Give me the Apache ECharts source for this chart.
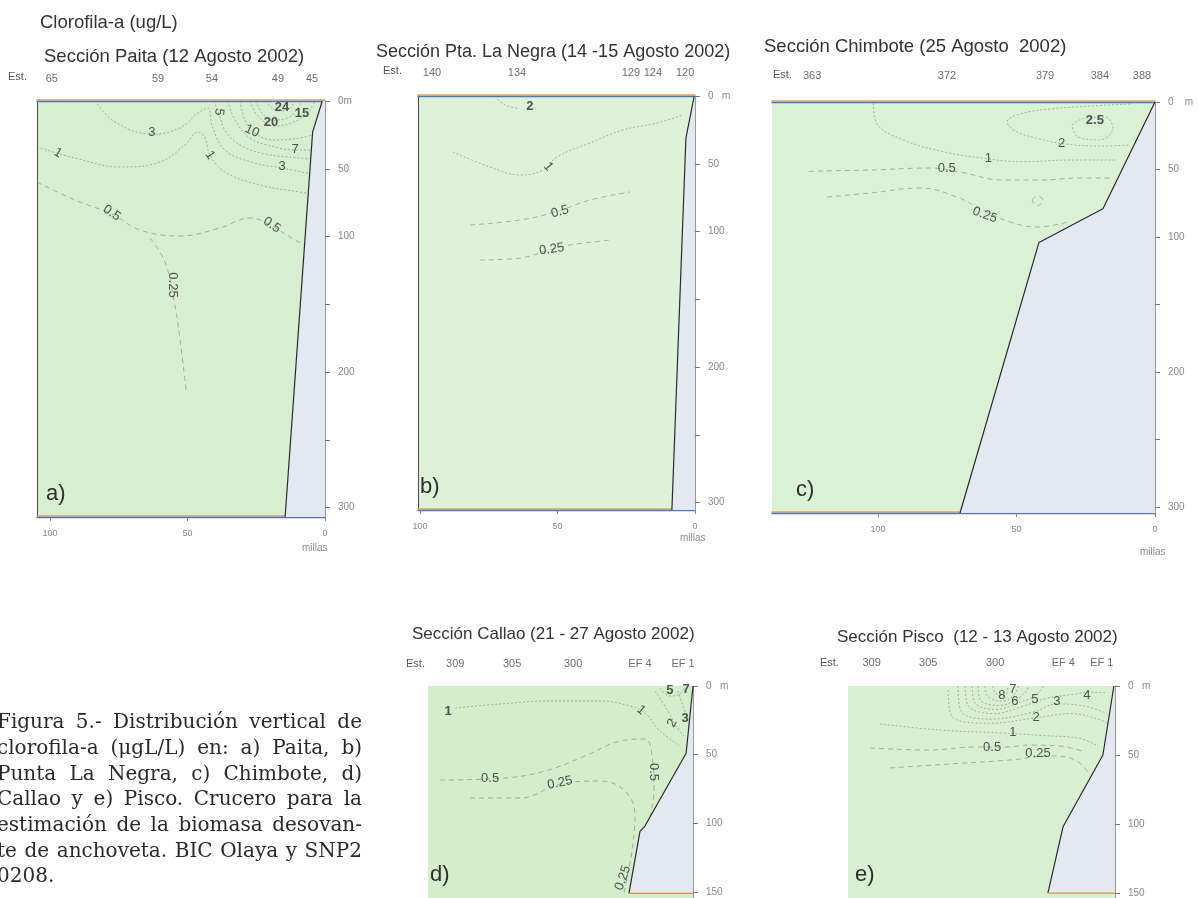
<!DOCTYPE html>
<html><head><meta charset="utf-8">
<script src="https://cdn.jsdelivr.net/npm/echarts@6/dist/echarts.min.js"></script>
<style>html,body{margin:0;padding:0;background:#fff}#c{width:1198px;height:898px}</style>
</head><body><div id="c"></div>
<script>
// ================= DATA =================
const chartTitle = 'Clorofila-a (ug/L)';
const sectionTitles = ['Sección Paita (12 Agosto 2002)','Sección Pta. La Negra (14 -15 Agosto 2002)','Sección Chimbote (25 Agosto  2002)','Sección Callao (21 - 27 Agosto 2002)','Sección Pisco  (12 - 13 Agosto 2002)'];
const panelLetters = ['a)','b)','c)','d)','e)'];
const xTicks = [0, 50, 100];

// Panel a — Paita (x: millas, y: depth m)
const stationsA = ['65','59','54','49','45'];
const stationMilesA = [99.3, 60.7, 41.1, 17.1, 4.7];
const bottomA = [[1,0],[4.5,23],[14.5,307]];
const contoursA = [
 ['24', [[21.5,0],[19.3,5.2],[15.3,7.4],[12,3.7],[11.3,0]]],
 ['20', [[25.1,0],[22.9,8.9],[19.3,14],[13.5,12.5],[9.8,5.2],[8.4,0]]],
 ['15', [[27.3,0],[24.4,11.1],[18.2,18.5],[10.5,14.8],[6.2,8.1],[3.6,0]]],
 ['10', [[30.9,0],[29.1,14],[25.1,24.4],[18.2,28.8],[9.1,27.3],[4,24.6]]],
 ['7',  [[35.3,0],[33.1,12.5],[27.3,27.3],[18.2,33.9],[10.9,36.2],[3,36.2]]],
 ['5',  [[40.4,0],[38.5,9.6],[36,22.9],[30.2,33.2],[21.8,39.1],[9.1,42.1],[2.5,43.5]]],
 ['3',  [[83.6,0],[76.4,15.5],[62.9,24.4],[52.7,19.9],[46.2,8.9],[42.5,5.2],[41.1,17.7],[36.4,36.2],[25.5,45.8],[15.6,49.4],[3.3,54.6]]],
 ['1',  [[104.7,33.9],[90.9,42.1],[74.5,48.7],[60,45],[50.9,32.5],[46.2,22.9],[43.6,27.3],[41.8,39.9],[36.4,52.4],[23.6,62],[9.1,67.2],[2.5,69.4]]],
 ['0.5',[[104.7,59.8],[90.9,73.1],[77.5,83.4],[67.3,95.2],[52.7,99.6],[38.2,93.7],[27.3,86.3],[19.3,92.3],[10.9,102.6],[3.6,110]]],
 ['0.25',[[63.6,101.1],[58.2,118.8],[54.9,146.9],[52.7,176.4],[50.5,213.3]]]
];
const labelsA = [[15.6,4.4,'24'],[8.4,8.9,'15'],[19.6,15.5,'20'],[38.5,8,'5'],[26.5,22.1,'10'],[10.9,36,'7'],[15.6,48,'3'],[62.9,22.9,'3'],[97.1,38.4,'1'],[41.8,39.9,'1'],[77.5,82.7,'0.5'],[19.3,91.5,'0.5'],[55.3,135.8,'0.25']];
const labelRotA = [0,0,0,-95,-25,0,0,0,-30,-55,-35,-35,-90];
const labelBoldA = [1,1,1,0,0,0,0,0,0,0,0,0,0];

// Panel b — Pta. La Negra
const stationsB = ['140','134','129','124','120'];
const stationMilesB = [95.6, 64.7, 23.3, 15.3, 3.6];
const bottomB = [[0.3,0],[3.3,31],[8.4,305.5]];
const contoursB = [
 ['2',  [[72.7,0],[71,4],[68,7.5],[64.5,9]]],
 ['1',  [[88,41.3],[74.5,52.4],[63.6,58.3],[55.3,54.6],[50.2,45],[38.2,34.7],[26.2,25.1],[13.8,19.9],[4.4,14]]],
 ['0.5',[[81.8,95.2],[63.6,91.5],[50.9,85.6],[38.2,76.8],[23.6,70.8]]],
 ['0.25',[[78.2,121],[63.6,119.6],[52.1,113.1],[45.5,110],[30.9,106.3]]]
];
const labelsB = [[60,7.9,'2'],[53.3,52.2,'1'],[49.1,85.4,'0.5'],[52.1,113.1,'0.25']];
const labelRotB = [0,-50,15,8];
const labelBoldB = [1,0,0,0];

// Panel c — Chimbote
const stationsC = ['363','372','379','384','388'];
const stationMilesC = [123.8, 75.1, 39.7, 19.9, 4.7];
const bottomC = [[0,0],[18.8,79],[41.9,104],[70.4,304.4]];
const contoursC = [
 ['2.5',[[30,17],[25.3,11.9],[18.1,11.1],[15.2,19.3],[19.9,28.1],[27.8,25.9],[30,17]]],
 ['2',  [[9,1.5],[23.5,3],[37.9,5.2],[48.7,8.9],[53.4,14.8],[50.5,21.5],[41.5,27.4],[32.5,31.1],[19.9,32.6],[9.7,31.9]]],
 ['1',  [[101.7,1],[100.5,15.8],[90.9,28.1],[76.4,36.8],[62,41.7],[47.5,44.2],[30.7,43],[13.8,43]]],
 ['0.5',[[125,51.5],[120.9,51.1],[102.9,50.4],[81.2,48.9],[70.4,51.9],[54.9,57.8],[41.5,57.8],[27.1,56.3],[16.2,56.3]]],
 ['0.25',[[118.4,70.4],[102.9,67.4],[84.8,63.7],[71.5,70.4],[62.1,80],[52.3,88.9],[42.6,92.6],[31.4,88.9]]],
 ['0.25',[[44.4,72.6],[42.6,69.6],[40.4,72.6],[42.6,77],[44.4,72.6]]]
];
const labelsC = [[21.7,13.3,'2.5'],[33.7,30.6,'2'],[60.2,41.7,'1'],[75.2,49.1,'0.5'],[61.4,83.7,'0.25']];
const labelRotC = [0,0,0,0,-20];
const labelBoldC = [1,0,0,0,0];

// Panel d — Callao
const stationsD = ['309','305','300','EF 4','EF 1'];
const stationMilesD = [86.5, 65.8, 43.6, 19.3, 3.6];
const bottomD = [[0,0],[2.5,49],[17.5,102],[19.3,106],[23.3,151]];
const contoursD = [
 ['5',  [[12,1.5],[8.4,7.3],[4.7,5.8],[3.3,1.5]]],
 ['3',  [[5.5,3.6],[3.6,14.6],[1.8,24]]],
 ['2',  [[13.8,3.6],[9.1,18.2],[6.2,29.1],[3.3,36.4]]],
 ['1',  [[86.5,16],[70.2,13.1],[52,10.9],[33.8,10.9],[22.9,14.6],[17.5,19.7],[12,32.8],[4.7,43.7]]],
 ['0.5',[[92,68.5],[68.4,67],[53.8,61.9],[39.3,51],[26.5,40.1],[17.5,38.6],[14.9,51],[14.2,76.5],[15.6,94.7]]],
 ['0.25',[[81.1,81.6],[62.9,81.6],[48.4,71.4],[33.8,69.2],[24.7,76.5],[21.1,94.7],[22.2,120.2],[24,139.8],[25.1,151]]]
];
const labelsD = [[8.4,2.9,'5'],[2.5,2.2,'7'],[89.1,18.2,'1'],[18.9,17.5,'1'],[7.6,27,'2'],[2.9,23.3,'3'],[73.8,67,'0.5'],[48.4,70.6,'0.25'],[14.5,62.6,'0.5'],[25.5,139.8,'0.25']];
const labelRotD = [0,0,0,-40,60,0,0,12,-90,70];
const labelBoldD = [1,1,1,0,0,1,0,0,0,0];

// Panel e — Pisco
const stationsE = ['309','305','300','EF 4','EF 1'];
const stationMilesE = [88.5, 67.9, 43.6, 18.8, 4.8];
const bottomE = [[0.4,0],[4.4,50],[18.9,102],[24.4,150]];
const contoursE = [
 ['8',  [[44.5,0],[43.5,5],[40.5,7],[39,3],[39,0]]],
 ['7',  [[47.3,0],[46.5,7],[41,11],[37,7],[35,0]]],
 ['6',  [[49.8,0],[49,10],[42,14],[36,10],[32,3],[31.5,0]]],
 ['5',  [[52,0],[51,12],[43.5,17],[35,12],[29,7],[26,0]]],
 ['4',  [[54.5,0],[53.5,14],[44,20],[34,15],[25,9],[15,6],[8,4.5],[3,5]]],
 ['3',  [[57.1,0],[56,18],[45.5,24],[30,19],[21,13],[10,15],[3,20]]],
 ['2',  [[60.7,2.9],[59.3,22],[45.5,27],[28.7,23],[16,20],[6,24],[3,27]]],
 ['1',  [[85.5,27.5],[63.6,31.9],[41.8,34],[25.5,36],[12.7,38],[6.2,43.5]]],
 ['0.5',[[89.1,44.9],[67.3,46.4],[50.9,44.2],[40,44.2],[30.9,42.8],[20,43.5],[10.9,47.8]]],
 ['0.25',[[81.8,59.4],[60,56.5],[38.2,53.6],[23.6,50.7],[14.5,53.6],[9.1,64.5]]]
];
const labelsE = [[41.1,6.5,'8'],[37.1,2.2,'7'],[36.4,10.9,'6'],[29.1,9.4,'5'],[21.1,10.9,'3'],[10.2,6.5,'4'],[28.7,22.5,'2'],[37.1,33.3,'1'],[44.7,44.2,'0.5'],[28,48.6,'0.25']];
const labelRotE = [0,0,0,0,0,0,0,0,0,0];
const labelBoldE = [0,0,0,0,0,0,0,0,0,0];

const captionLines = [
 'Figura 5.- Distribución vertical de',
 'clorofila-a (μgL/L) en: a) Paita, b)',
 'Punta La Negra, c) Chimbote, d)',
 'Callao y e) Pisco. Crucero para la',
 'estimación de la biomasa desovan-',
 'te de anchoveta. BIC Olaya y SNP2',
 '0208.'
];

// ================= LAYOUT / STYLE =================
const FONT = '"Liberation Sans", Arial, sans-serif';
const panelData = [
 {st:stationsA, stM:stationMilesA, bottom:bottomA, contours:contoursA, labels:labelsA, rot:labelRotA, bold:labelBoldA},
 {st:stationsB, stM:stationMilesB, bottom:bottomB, contours:contoursB, labels:labelsB, rot:labelRotB, bold:labelBoldB},
 {st:stationsC, stM:stationMilesC, bottom:bottomC, contours:contoursC, labels:labelsC, rot:labelRotC, bold:labelBoldC},
 {st:stationsD, stM:stationMilesD, bottom:bottomD, contours:contoursD, labels:labelsD, rot:labelRotD, bold:labelBoldD},
 {st:stationsE, stM:stationMilesE, bottom:bottomE, contours:contoursE, labels:labelsE, rot:labelRotE, bold:labelBoldE}
];
const panelCfg = [
 {grid:[37,101,288,416], xMax:104.7, yMax:307, bg:'#d7efd0', frame:true, leftLine:true, showX:true, zero:'0m',
  yTicks:[0,50,100,150,200,250,300], yLabels:[0,50,100,200,300], baseLine:false,
  title:[44,57,18.5], est:[8,77], stY:79, letter:[46,494], millas:[302,548]},
 {grid:[418,96,277,414], xMax:100.7, yMax:305.5, bg:'#ddf2d9', frame:true, leftLine:true, showX:true, zero:'0   m',
  yTicks:[0,50,100,150,200,250,300], yLabels:[0,50,100,200,300], baseLine:false,
  title:[376,52,18], est:[383,71], stY:73, letter:[420,487], millas:[680,538]},
 {grid:[772,102,383,411], xMax:138.3, yMax:304.4, bg:'#dbf1d5', frame:true, leftLine:false, showX:true, zero:'0    m',
  yTicks:[0,50,100,150,200,250,300], yLabels:[0,50,100,200,300], baseLine:false,
  title:[764,47,18.5], est:[773,75], stY:76, letter:[796,490], millas:[1140,552]},
 {grid:[428,686,265,212], xMax:96.4, yMax:154.4, bg:'#d4edcb', frame:false, leftLine:false, showX:false, zero:'0   m',
  yTicks:[0,50,100,150], yLabels:[0,50,100,150], baseLine:true,
  title:[412,634,17], est:[406,664], stY:664, letter:[430,875], millas:null},
 {grid:[848,686,267,212], xMax:97.1, yMax:153.6, bg:'#d9efd1', frame:false, leftLine:false, showX:false, zero:'0   m',
  yTicks:[0,50,100,150], yLabels:[0,50,100,150], baseLine:true,
  title:[837,637,17], est:[820,663], stY:663, letter:[855,875], millas:null}
];

// ================= BUILD =================
const grid=[], xAxis=[], yAxis=[], series=[];
panelCfg.forEach((P,p)=>{
  const D = panelData[p];
  grid.push({left:P.grid[0], top:P.grid[1], width:P.grid[2], height:P.grid[3], show:true,
    backgroundColor:P.bg, borderWidth:0, containLabel:false, outerBoundsMode:'none'});
  const frameStyle = {color:'#4d78bd', width:1.3, shadowColor:'#e5a25c', shadowOffsetY:-1.5, shadowBlur:0};
  xAxis.push({gridIndex:p, type:'value', min:0, max:P.xMax, inverse:true, position:'bottom',
    axisLine:{show:P.frame, onZero:false, lineStyle:frameStyle},
    axisTick:{show:P.showX, customValues:xTicks, length:4, lineStyle:{color:'#888'}},
    axisLabel:{show:P.showX, customValues:xTicks, fontSize:9, color:'#8a8a8a', margin:12, fontFamily:FONT},
    splitLine:{show:false}});
  xAxis.push({gridIndex:p, type:'value', min:0, max:P.xMax, inverse:true, position:'top',
    axisLine:{show:P.frame, onZero:false, lineStyle:frameStyle},
    axisTick:{show:false}, axisLabel:{show:false}, splitLine:{show:false}});
  yAxis.push({gridIndex:p, type:'value', min:0, max:P.yMax, inverse:true, position:'right',
    axisLine:{show:true, onZero:false, lineStyle:{color:'#9a9a9a', width:1}},
    axisTick:{show:true, customValues:P.yTicks, length:5, lineStyle:{color:'#777'}},
    axisLabel:{customValues:P.yLabels, formatter:v=> v===0 ? P.zero : String(v), fontSize:10, color:'#8a8a8a', margin:13, fontFamily:FONT},
    splitLine:{show:false}});
  yAxis.push({gridIndex:p, type:'value', min:0, max:P.yMax, inverse:true, position:'left',
    axisLine:{show:P.leftLine, onZero:false, lineStyle:{color:'#4a4a4a', width:1}},
    axisTick:{show:false}, axisLabel:{show:false}, splitLine:{show:false}});
  const xi = 2*p, yi = 2*p;
  // contour lines
  D.contours.forEach(([lvl, pts])=>{
    series.push({type:'line', xAxisIndex:xi, yAxisIndex:yi, data:pts, smooth:0.4, symbol:'none', silent:true, z:2,
      lineStyle:{color:'rgba(95,115,95,0.55)', width:0.9, type: parseFloat(lvl) < 1 ? [5,4] : [2,2]}});
  });
  // bathymetry (land) polygon
  const last = D.bottom[D.bottom.length-1];
  const poly = D.bottom.concat([[0,last[1]],[0,0]]);
  series.push({type:'custom', xAxisIndex:xi, yAxisIndex:yi, data:poly, silent:true, z:3,
    renderItem:(params, api)=>{
      if (params.dataIndex !== 0) return null;
      return {type:'polygon', shape:{points: poly.map(pt=>api.coord(pt))}, style:{fill:'#e3e9f0', stroke:null}};
    }});
  series.push({type:'line', xAxisIndex:xi, yAxisIndex:yi, data:D.bottom, symbol:'none', silent:true, z:4,
    lineStyle:{color:'#2a2a2a', width:1.2}});
  if (P.baseLine) {
    series.push({type:'line', xAxisIndex:xi, yAxisIndex:yi, data:[last,[0,last[1]]], symbol:'none', silent:true, z:4,
      lineStyle:{color:'#d9944e', width:1.3}});
  }
  // contour labels
  series.push({type:'scatter', xAxisIndex:xi, yAxisIndex:yi, symbolSize:1, silent:true, z:6,
    itemStyle:{color:'rgba(0,0,0,0)'},
    label:{show:true, position:'inside', fontSize:13, color:'#2a2a2a', fontFamily:FONT},
    data: D.labels.map((l,i)=>({value:[l[0],l[1]], label:{formatter:l[2], rotate:D.rot[i], fontWeight:D.bold[i]?'bold':'normal'}}))});
});

const chart = echarts.init(document.getElementById('c'), null, {renderer:'canvas', width:1198, height:898});
chart.setOption({animation:false, backgroundColor:'#ffffff', grid, xAxis, yAxis, series});

// ================= TEXT (graphic) =================
const graphic = [];
function txt(x, y, text, font, fill, align, vAlign){
  graphic.push({type:'text', x, y, silent:true, z:10,
    style:{text, font, fill, align:align||'left', verticalAlign:vAlign||'middle', textAlign:align||'left', textVerticalAlign:vAlign||'middle'}});
}
txt(40, 23, chartTitle, '18.5px '+FONT, '#333', 'left', 'middle');
panelCfg.forEach((P,p)=>{
  const D = panelData[p];
  txt(P.title[0], P.title[1], sectionTitles[p], P.title[2]+'px '+FONT, '#333', 'left', 'middle');
  txt(P.est[0], P.est[1], 'Est.', '11px '+FONT, '#555', 'left', 'middle');
  D.st.forEach((s,i)=>{
    const x = chart.convertToPixel({xAxisIndex:2*p}, D.stM[i]);
    txt(x, P.stY, s, '11px '+FONT, '#6e6e6e', 'center', 'middle');
  });
  txt(P.letter[0], P.letter[1], panelLetters[p], '22px '+FONT, '#2d2d2d', 'left', 'middle');
  if (P.millas) txt(P.millas[0], P.millas[1], 'millas', '10px '+FONT, '#8a8a8a', 'left', 'middle');
});
// justified caption
const CAP_FONT = '20px "DejaVu Serif", serif';
const capX0 = -3, capW = 365, capY0 = 723, capLH = 25.7;
const mctx = document.createElement('canvas').getContext('2d');
mctx.font = CAP_FONT;
captionLines.forEach((line,i)=>{
  const y = capY0 + i*capLH;
  const words = line.split(' ');
  if (i === captionLines.length-1 || words.length < 2) {
    txt(capX0, y, line, CAP_FONT, '#2a2a2a', 'left', 'middle');
    return;
  }
  const widths = words.map(w=>mctx.measureText(w).width);
  const total = widths.reduce((a,b)=>a+b,0);
  const gap = (capW - total)/(words.length-1);
  let x = capX0;
  words.forEach((w,k)=>{ txt(x, y, w, CAP_FONT, '#2a2a2a', 'left', 'middle'); x += widths[k] + gap; });
});
chart.setOption({graphic});
</script>
</body></html>
